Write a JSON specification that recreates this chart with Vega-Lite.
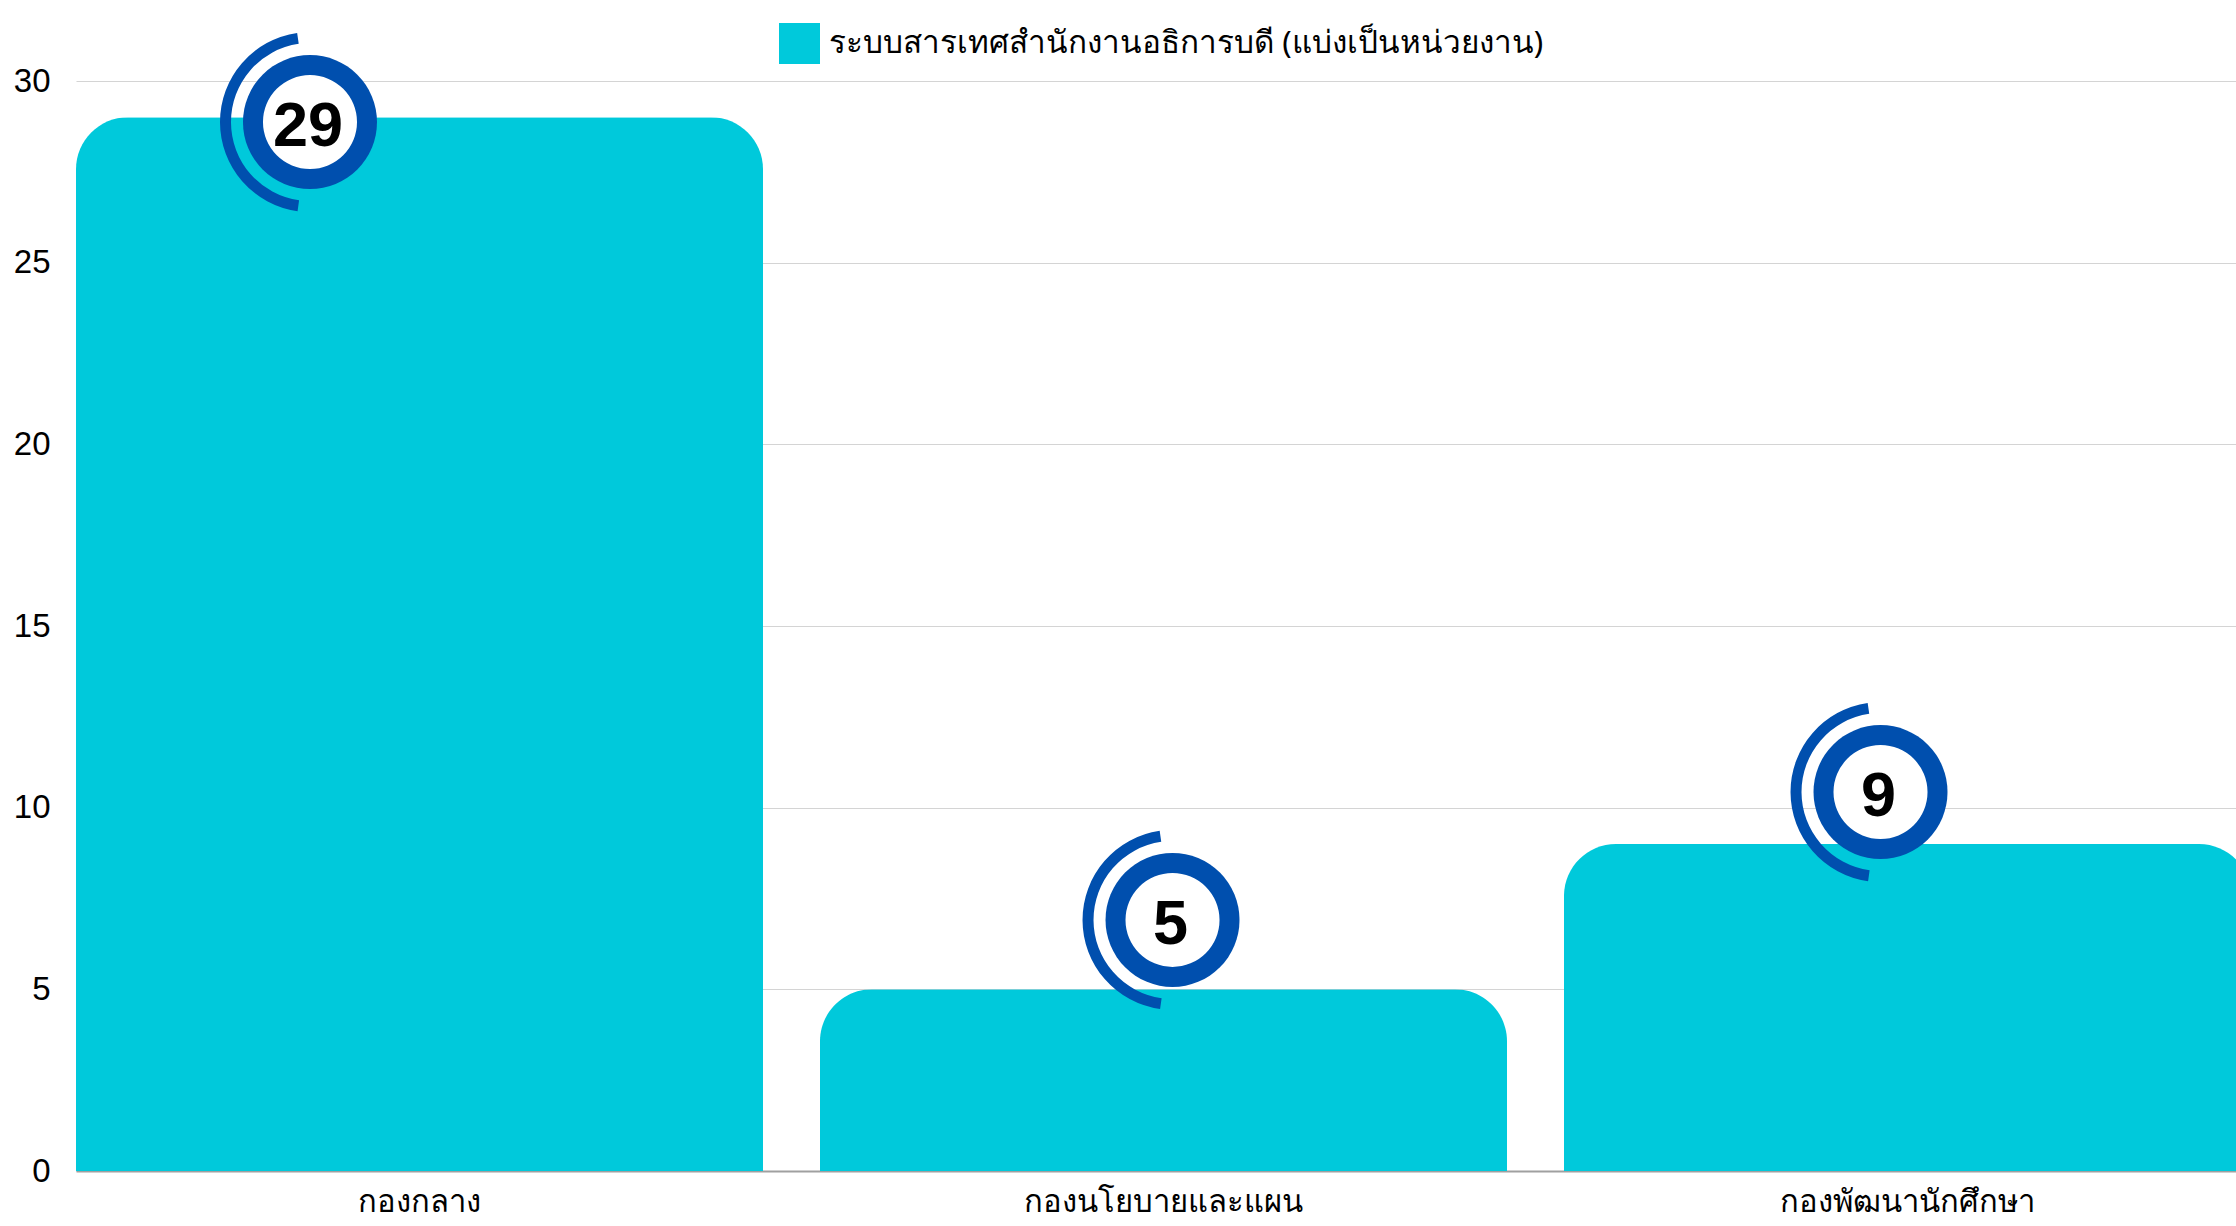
{
  "$schema": "https://vega.github.io/schema/vega-lite/v6.json",
  "width": 2160,
  "height": 1090,
  "autosize": {"type": "none"},
  "padding": {"left": 76, "top": 81, "right": 0, "bottom": 55},
  "background": "white",
  "config": {"view": {"stroke": null}, "font": "Liberation Sans"},
  "data": {"values": [
    {"unit": "กองกลาง", "count": 29, "badgeX": 0.3145, "badgeY": 28.87},
    {"unit": "กองนโยบายและแผน", "count": 5, "badgeX": 1.4738, "badgeY": 6.91},
    {"unit": "กองพัฒนานักศึกษา", "count": 9, "badgeX": 2.4254, "badgeY": 10.43}
  ]},
  "layer": [
    {
      "mark": {"type": "bar", "cornerRadiusTopLeft": 52, "cornerRadiusTopRight": 52},
      "encoding": {
        "x": {
          "field": "unit", "type": "nominal", "sort": null,
          "scale": {"range": [0, 2175], "paddingInner": 0.0766, "paddingOuter": 0},
          "axis": {"title": null, "labelAngle": 0, "ticks": false, "tickSize": 0, "domainColor": "#a0a0a0", "domainWidth": 2, "labelFontSize": 31, "labelColor": "#000000", "labelPadding": 16, "labelFont": "Noto Sans, sans-serif", "labelLimit": 1000, "grid": false}
        },
        "y": {
          "field": "count", "type": "quantitative",
          "scale": {"domain": [0, 30], "nice": false},
          "axis": {"values": [0, 5, 10, 15, 20, 25, 30], "title": null, "domain": false, "ticks": false, "tickSize": 0, "labelPadding": 26, "labelFontSize": 33, "labelColor": "#000000", "gridColor": "#d4d4d4", "gridWidth": 1.2, "labelFont": "Liberation Sans"}
        },
        "color": {
          "datum": "ระบบสารเทศสำนักงานอธิการบดี (แบ่งเป็นหน่วยงาน)", "type": "nominal",
          "scale": {"range": ["#00C9DB"]},
          "legend": {"title": null, "orient": "none", "legendX": 703, "legendY": -58, "padding": 0, "symbolType": "square", "symbolSize": 1681, "symbolStrokeWidth": 0, "labelFontSize": 31.5, "labelOffset": 9, "labelColor": "#000000", "labelFont": "Noto Sans, sans-serif", "labelLimit": 1000}
        }
      }
    },
    {
      "encoding": {
        "x": {"field": "badgeX", "type": "quantitative", "scale": {"domain": [0, 2.9032], "nice": false, "zero": false}, "axis": null},
        "y": {"field": "badgeY", "type": "quantitative"}
      },
      "layer": [
        {"mark": {"type": "arc", "theta": 3.28, "theta2": 6.14, "radius": 90, "radius2": 79, "color": "#004FAE"}},
        {"mark": {"type": "arc", "theta": 0, "theta2": 6.2832, "radius": 67, "radius2": 0, "color": "#004FAE"}},
        {"mark": {"type": "arc", "theta": 0, "theta2": 6.2832, "radius": 47, "radius2": 0, "color": "#FFFFFF"}},
        {"mark": {"type": "text", "fontSize": 63, "fontWeight": "bold", "font": "Liberation Sans", "color": "#000000", "baseline": "middle", "align": "center", "dy": 5, "dx": -2},
         "encoding": {"text": {"field": "count", "type": "quantitative"}}}
      ]
    }
  ],
  "resolve": {"scale": {"x": "independent"}, "axis": {"x": "independent"}}
}
